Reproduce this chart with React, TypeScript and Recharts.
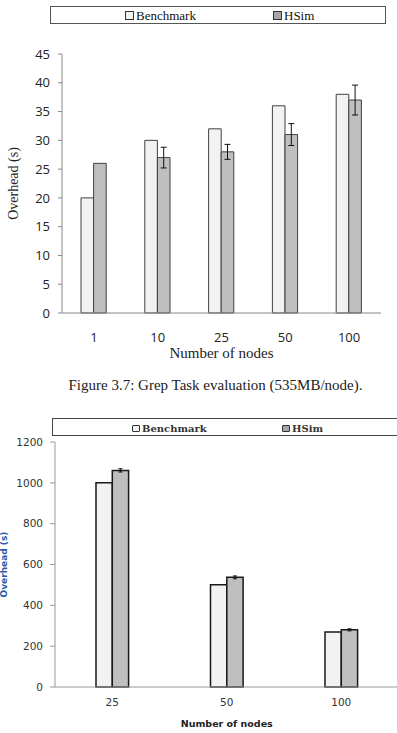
import React from "react";
import { BarChart, Bar, XAxis, YAxis, ErrorBar } from "recharts";

// ==================== DATA ====================
const grepNodes = ["1", "10", "25", "50", "100"];
const grepBenchmark = [20, 30, 32, 36, 38];
const grepHSim = [26, 27, 28, 31, 37];
const grepHSimErr = [null, 1.8, 1.3, 1.9, 2.6];
const grepTicks = [0, 5, 10, 15, 20, 25, 30, 35, 40, 45];

const sortNodes = ["25", "50", "100"];
const sortBenchmark = [1000, 501, 269];
const sortHSim = [1061, 537, 280];
const sortHSimErr = [8, 7, 5];
const sortTicks = [0, 200, 400, 600, 800, 1000, 1200];

const caption = "Figure 3.7: Grep Task evaluation (535MB/node).";

const grepData = grepNodes.map((n, i) => ({
  nodes: n,
  benchmark: grepBenchmark[i],
  hsim: grepHSim[i],
  err: grepHSimErr[i],
}));

const sortData = sortNodes.map((n, i) => ({
  nodes: n,
  benchmark: sortBenchmark[i],
  hsim: sortHSim[i],
  err: sortHSimErr[i],
}));

const LIGHT = "#f2f2f2";
const GREY = "#bfbfbf";

function LegendItem({
  label,
  fill,
  font,
  swatch,
}: {
  label: string;
  fill: string;
  font: React.CSSProperties;
  swatch: React.CSSProperties;
}) {
  return (
    <span style={{ display: "inline-flex", alignItems: "center", ...font }}>
      <span
        style={{
          display: "inline-block",
          background: fill,
          border: "1px solid #333",
          marginRight: 2,
          boxSizing: "border-box",
          ...swatch,
        }}
      />
      {label}
    </span>
  );
}

// ==================== FIRST CHART ====================
function GrepChart() {
  const serif = { fontFamily: "'Liberation Serif', serif", fontSize: 13, color: "#111" };
  return (
    <div style={{ position: "absolute", left: 0, top: 0, width: 397, height: 365 }}>
      <div
        style={{
          position: "absolute",
          left: 50,
          top: 6,
          width: 336,
          height: 18,
          border: "1px solid #555",
          boxSizing: "border-box",
        }}
      >
        <div style={{ position: "absolute", left: 74, top: 0, lineHeight: "16px" }}>
          <LegendItem label="Benchmark" fill={LIGHT} font={serif} swatch={{ width: 9, height: 9 }} />
        </div>
        <div style={{ position: "absolute", left: 222, top: 0, lineHeight: "16px" }}>
          <LegendItem label="HSim" fill="#a6a6a6" font={serif} swatch={{ width: 9, height: 9 }} />
        </div>
      </div>
      <BarChart
        width={397}
        height={365}
        data={grepData}
        margin={{ top: 54, right: 16, left: 0, bottom: 2 }}
        barGap={0}
        style={{ fontFamily: "'Open Sans', sans-serif" }}
      >
        <XAxis
          dataKey="nodes"
          tickLine={false}
          tickSize={0}
          tickMargin={20}
          height={50}
          axisLine={{ stroke: "#888" }}
          tick={{ fill: "#222", fontSize: 13 }}
          label={{
            value: "Number of nodes",
            position: "insideBottom",
            offset: 5,
            style: { fontFamily: "'Liberation Serif', serif", fontSize: 15, fill: "#222" },
          }}
        />
        <XAxis
          xAxisId="top"
          dataKey="nodes"
          orientation="top"
          height={0}
          tick={false}
          tickLine={false}
          axisLine={{ stroke: "#888" }}
        />
        <YAxis
          domain={[0, 45]}
          ticks={grepTicks}
          width={62}
          tickSize={4}
          tickMargin={8}
          axisLine={{ stroke: "#888" }}
          tickLine={{ stroke: "#888" }}
          tick={{ fill: "#222", fontSize: 13 }}
          label={{
            value: "Overhead (s)",
            angle: -90,
            position: "insideLeft",
            offset: 13,
            style: {
              textAnchor: "middle",
              fontFamily: "'Liberation Serif', serif",
              fontSize: 14,
              fill: "#222",
            },
          }}
        />
        <YAxis
          yAxisId="right"
          orientation="right"
          domain={[0, 45]}
          width={0}
          tick={false}
          tickLine={false}
          axisLine={{ stroke: "#888" }}
        />
        <Bar dataKey="benchmark" fill={LIGHT} stroke="#404040" strokeWidth={1} barSize={12.6} isAnimationActive={false} />
        <Bar dataKey="hsim" fill={GREY} stroke="#404040" strokeWidth={1} barSize={12.6} isAnimationActive={false}>
          <ErrorBar dataKey="err" width={3} stroke="#111" strokeWidth={1} direction="y" />
        </Bar>
      </BarChart>
    </div>
  );
}

// ==================== SECOND CHART ====================
function SortChart() {
  const serif = { fontFamily: "'DejaVu Serif', serif", fontSize: 10, fontWeight: 700, color: "#333" };
  return (
    <div style={{ position: "absolute", left: 0, top: 400, width: 397, height: 333, overflow: "hidden" }}>
      <div
        style={{
          position: "absolute",
          left: 52,
          top: 18,
          width: 360,
          height: 18,
          border: "1px solid #444",
          boxSizing: "border-box",
        }}
      >
        <div style={{ position: "absolute", left: 79, top: 0, lineHeight: "16px" }}>
          <LegendItem label="Benchmark" fill={LIGHT} font={serif} swatch={{ width: 8, height: 7, borderRadius: 1 }} />
        </div>
        <div style={{ position: "absolute", left: 229, top: 0, lineHeight: "16px" }}>
          <LegendItem label="HSim" fill="#a6a6a6" font={serif} swatch={{ width: 8, height: 7, borderRadius: 1 }} />
        </div>
      </div>
      <BarChart
        width={420}
        height={333}
        data={sortData}
        margin={{ top: 42, right: 21.5, left: 0, bottom: 0 }}
        barGap={0}
        style={{ fontFamily: "'DejaVu Sans', sans-serif" }}
      >
        <XAxis
          dataKey="nodes"
          tickLine={false}
          tickSize={0}
          tickMargin={12}
          height={46}
          axisLine={{ stroke: "#999" }}
          tick={{ fill: "#333", fontSize: 10.5 }}
          label={{
            value: "Number of nodes",
            position: "insideBottom",
            offset: 6.5,
            style: { fontSize: 9.5, fontWeight: 700, fill: "#222" },
          }}
        />
        <XAxis
          xAxisId="top"
          dataKey="nodes"
          orientation="top"
          height={0}
          tick={false}
          tickLine={false}
          axisLine={{ stroke: "#999" }}
        />
        <YAxis
          domain={[0, 1200]}
          ticks={sortTicks}
          width={55}
          tickSize={5}
          tickMargin={7}
          axisLine={{ stroke: "#999" }}
          tickLine={{ stroke: "#999" }}
          tick={{ fill: "#333", fontSize: 10.5 }}
          label={{
            value: "Overhead (s)",
            angle: -90,
            position: "insideLeft",
            offset: 4,
            style: { textAnchor: "middle", fontSize: 9, fontWeight: 700, fill: "#2a5caa" },
          }}
        />
        <Bar dataKey="benchmark" fill={LIGHT} stroke="#1a1a1a" strokeWidth={1.5} barSize={16.3} isAnimationActive={false} />
        <Bar dataKey="hsim" fill={GREY} stroke="#1a1a1a" strokeWidth={1.5} barSize={16.3} isAnimationActive={false}>
          <ErrorBar dataKey="err" width={2} stroke="#111" strokeWidth={1} direction="y" />
        </Bar>
      </BarChart>
    </div>
  );
}

export default function App() {
  return (
    <div style={{ position: "absolute", left: 0, top: 0, width: 397, height: 733, background: "#fff", overflow: "hidden" }}>
      <GrepChart />
      <div
        style={{
          position: "absolute",
          left: 0,
          width: 431,
          top: 375,
          textAlign: "center",
          fontFamily: "'Liberation Serif', serif",
          fontSize: 15,
          lineHeight: "20px",
          color: "#222",
        }}
      >
        {caption}
      </div>
      <SortChart />
    </div>
  );
}
